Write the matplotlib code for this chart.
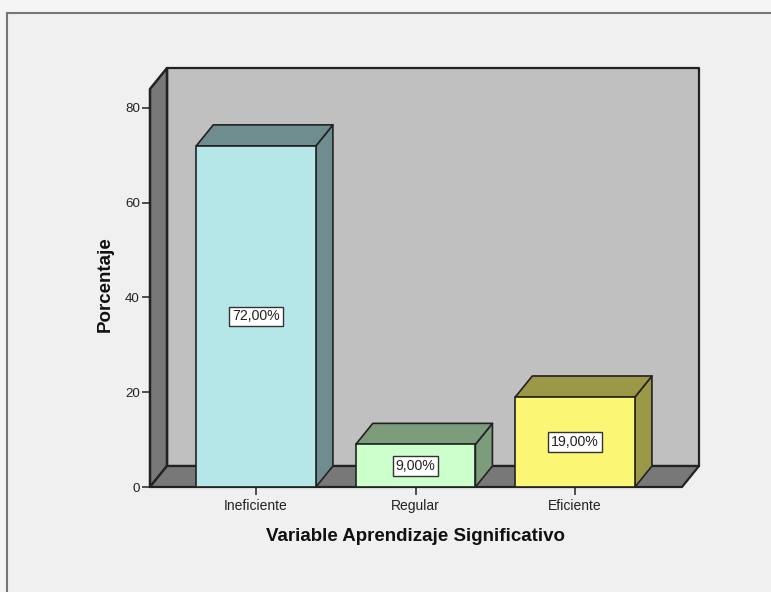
import matplotlib
matplotlib.use('Agg')
import matplotlib.pyplot as plt
from matplotlib.patches import Polygon, Rectangle
from matplotlib.lines import Line2D

plt.rcParams['font.family'] = ['Liberation Sans', 'DejaVu Sans']

categories = ['Ineficiente', 'Regular', 'Eficiente']
percent = [72, 9, 19]
value_labels = ['72,00%', '9,00%', '19,00%']
front_colors = ['#b5e6e8', '#ccffcc', '#fbf774']
side_colors = ['#6f8d8f', '#7c9c7c', '#9b9848']
yticks = [0, 20, 40, 60, 80]

W, H = 771, 592
bar_w = 0.75
# depth of the fake 3d box, in data units
dx = 0.1066
dy = 4.43
x0, x1 = -0.665, 2.67
y1 = 84.0
edge = '#222222'

fig = plt.figure(figsize=(W / 100, H / 100), dpi=100, facecolor='#f0f0f0')
ax = fig.add_axes([150 / W, 1 - 487 / H, 532 / W, 398 / H])
ax.set_xlim(x0, x1)
ax.set_ylim(0, y1)
ax.patch.set_visible(False)
for s in ax.spines.values():
    s.set_visible(False)


def poly(pts, color, z, lw=1.5):
    ax.add_patch(Polygon(pts, closed=True, facecolor=color, edgecolor=edge, linewidth=lw,
                         joinstyle='round', clip_on=False, zorder=z))


# walls and floor
poly([(x0 + dx, dy), (x1 + dx, dy), (x1 + dx, y1 + dy), (x0 + dx, y1 + dy)], '#c0c0c0', 1, 1.6)
poly([(x0, 0), (x0 + dx, dy), (x0 + dx, y1 + dy), (x0, y1)], '#787878', 2, 1.8)
poly([(x0, 0), (x1, 0), (x1 + dx, dy), (x0 + dx, dy)], '#787878', 2, 1.6)

for i, v in enumerate(percent):
    l, r = i - bar_w / 2, i + bar_w / 2
    z = 3 + i
    poly([(r, 0), (r + dx, dy), (r + dx, v + dy), (r, v)], side_colors[i], z, 1.2)
    poly([(l, v), (r, v), (r + dx, v + dy), (l + dx, v + dy)], side_colors[i], z, 1.2)
    poly([(l, 0), (r, 0), (r, v), (l, v)], front_colors[i], z, 1.2)
    ax.text(i, v / 2, value_labels[i], ha='center', va='center', fontsize=10.2, color='#222222', zorder=10,
            bbox=dict(boxstyle='square,pad=0.2', facecolor='white', edgecolor='#333333', linewidth=1))

ax.set_xticks(range(len(categories)))
ax.set_xticklabels(categories, fontsize=10, color='#222222')
ax.set_yticks(yticks)
ax.set_yticklabels([str(t) for t in yticks], fontsize=9.6, color='#222222')
ax.tick_params(axis='both', length=5.8, width=1.2, color='#333333', pad=1.5)
ax.tick_params(axis='x', pad=3)
ax.set_xlabel('Variable Aprendizaje Significativo', fontsize=13.5, fontweight='bold', color='#111111')
ax.xaxis.set_label_coords(265 / 532, -41 / 398)
ax.set_ylabel('Porcentaje', fontsize=13.5, fontweight='bold', color='#111111')
ax.yaxis.set_label_coords(-36 / 532, 203 / 398)

# chart frame, only top and left show up
fig.add_artist(Rectangle((0, 1 - 13 / H), 1, 13 / H, transform=fig.transFigure, facecolor='#f5f5f5', edgecolor='none'))
fig.add_artist(Rectangle((0, 0), 7 / W, 1, transform=fig.transFigure, facecolor='#f5f5f5', edgecolor='none'))
fig.add_artist(Line2D([7 / W, 7 / W], [0, 1 - 13 / H], color='#777777', lw=1.5))
fig.add_artist(Line2D([7 / W, 1], [1 - 13 / H, 1 - 13 / H], color='#777777', lw=1.5))

fig.savefig('out.png', dpi=100, facecolor=fig.get_facecolor())
